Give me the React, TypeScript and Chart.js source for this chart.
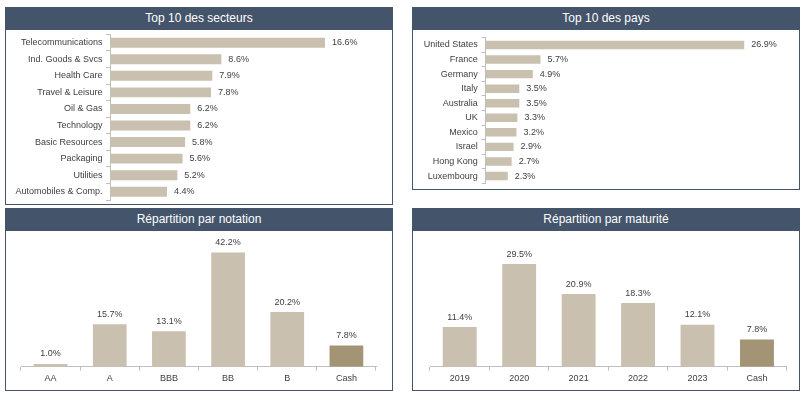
import React, { useEffect, useRef } from 'react';
import { Chart, registerables } from 'chart.js';
Chart.register(...registerables);

// ---- data ----
const sectorLabels = [
  'Telecommunications', 'Ind. Goods & Svcs', 'Health Care', 'Travel & Leisure', 'Oil & Gas',
  'Technology', 'Basic Resources', 'Packaging', 'Utilities', 'Automobiles & Comp.',
];
const sectorValues = [16.6, 8.6, 7.9, 7.8, 6.2, 6.2, 5.8, 5.6, 5.2, 4.4];

const countryLabels = [
  'United States', 'France', 'Germany', 'Italy', 'Australia', 'UK', 'Mexico', 'Israel', 'Hong Kong', 'Luxembourg',
];
const countryValues = [26.9, 5.7, 4.9, 3.5, 3.5, 3.3, 3.2, 2.9, 2.7, 2.3];

const ratingLabels = ['AA', 'A', 'BBB', 'BB', 'B', 'Cash'];
const ratingValues = [1.0, 15.7, 13.1, 42.2, 20.2, 7.8];

const maturityLabels = ['2019', '2020', '2021', '2022', '2023', 'Cash'];
const maturityValues = [11.4, 29.5, 20.9, 18.3, 12.1, 7.8];

// ---- styles ----
const FONT = '"Liberation Sans", Arial, sans-serif';
const HEADER = '#44546A';
const BAR = '#C9C0AF';
const CASH = '#A39475';
const AXIS = '#BFBFBF';
const TEXT = '#404040';

const colorsFor = (labels: string[]) => labels.map((l) => (l === 'Cash' ? CASH : BAR));

const valueLabelPlugin = {
  id: 'valueLabels',
  afterDatasetsDraw(chart: any) {
    const { ctx } = chart;
    const horizontal = chart.options.indexAxis === 'y';
    chart.data.datasets.forEach((ds: any, di: number) => {
      const meta = chart.getDatasetMeta(di);
      meta.data.forEach((el: any, i: number) => {
        const txt = Number(ds.data[i]).toFixed(1) + '%';
        ctx.save();
        ctx.font = `9px ${FONT}`;
        ctx.fillStyle = TEXT;
        ctx.textBaseline = 'middle';
        if (horizontal) {
          ctx.textAlign = 'left';
          ctx.fillText(txt, el.x + 7, el.y);
        } else {
          ctx.textAlign = 'center';
          ctx.fillText(txt, el.x, el.y - 10);
        }
        ctx.restore();
      });
    });
  },
};

function hbarConfig(labels: string[], values: number[], max: number, axisWidth: number, pad: any, labelPad: number, barPct: number) {
  return {
    type: 'bar',
    data: {
      labels,
      datasets: [{ data: values, backgroundColor: colorsFor(labels), barPercentage: barPct, categoryPercentage: 1 }],
    },
    options: {
      indexAxis: 'y',
      animation: false,
      responsive: false,
      devicePixelRatio: 1,
      layout: { padding: pad },
      plugins: { legend: { display: false }, tooltip: { enabled: false } },
      scales: {
        x: { display: false, min: 0, max },
        y: {
          afterFit: (s: any) => { s.width = axisWidth; s.paddingTop = 0; s.paddingBottom = 0; },
          grid: { display: true, drawOnChartArea: false, tickLength: 4, color: AXIS, offset: true },
          border: { display: true, color: AXIS },
          ticks: { font: { size: 9, family: FONT }, color: TEXT, padding: labelPad, autoSkip: false },
        },
      },
    },
    plugins: [valueLabelPlugin],
  };
}

function vbarConfig(labels: string[], values: number[], max: number, pad: any) {
  return {
    type: 'bar',
    data: {
      labels,
      datasets: [{ data: values, backgroundColor: colorsFor(labels), barPercentage: 0.57, categoryPercentage: 1 }],
    },
    options: {
      animation: false,
      responsive: false,
      devicePixelRatio: 1,
      layout: { padding: pad },
      plugins: { legend: { display: false }, tooltip: { enabled: false } },
      scales: {
        x: {
          afterFit: (s: any) => { s.height = 22.3; s.paddingLeft = 0; s.paddingRight = 0; },
          grid: { display: true, drawOnChartArea: false, tickLength: 4, color: AXIS, offset: true },
          border: { display: true, color: AXIS },
          ticks: { font: { size: 9, family: FONT }, color: TEXT, padding: 2, autoSkip: false, maxRotation: 0 },
        },
        y: { display: false, min: 0, max },
      },
    },
    plugins: [valueLabelPlugin],
  };
}

function ChartCanvas({ x, y, w, h, config }: { x: number; y: number; w: number; h: number; config: any }) {
  const ref = useRef<HTMLCanvasElement | null>(null);
  useEffect(() => {
    if (!ref.current) return;
    const chart = new Chart(ref.current, config);
    return () => chart.destroy();
  }, []);
  return (
    <canvas
      ref={ref}
      width={w}
      height={h}
      style={{ position: 'absolute', left: x, top: y, width: w, height: h }}
    />
  );
}

function Panel({ x, y, w, h, title }: { x: number; y: number; w: number; h: number; title: string }) {
  return (
    <>
      <div
        style={{
          position: 'absolute', left: x, top: y, width: w, height: h,
          border: `1.5px solid ${HEADER}`, boxSizing: 'border-box', background: '#fff',
        }}
      />
      <div
        style={{
          position: 'absolute', left: x, top: y, width: w, height: 23, background: HEADER,
          color: '#fff', fontFamily: FONT, fontSize: 12, lineHeight: '23px', textAlign: 'center',
        }}
      >
        {title}
      </div>
    </>
  );
}

export default function App() {
  return (
    <div style={{ position: 'fixed', left: 0, top: 0, width: 809, height: 399, background: '#fff', overflow: 'hidden' }}>
      <Panel x={5} y={7} w={388} h={198} title="Top 10 des secteurs" />
      <Panel x={412} y={7} w={388} h={183} title="Top 10 des pays" />
      <Panel x={5} y={208} w={388} h={183} title="Répartition par notation" />
      <Panel x={412} y={208} w={388} h={183} title="Répartition par maturité" />

      <ChartCanvas
        x={7} y={31} w={384} h={172}
        config={hbarConfig(sectorLabels, sectorValues, 20, 103, { left: 0, right: 22, top: 3.4, bottom: 3 }, 3.5, 0.6)}
      />
      <ChartCanvas
        x={414} y={31} w={384} h={157}
        config={hbarConfig(countryLabels, countryValues, 30, 71.7, { left: 0, right: 24, top: 6.7, bottom: 4.7 }, 4, 0.58)}
      />
      <ChartCanvas
        x={7} y={232} w={384} h={157}
        config={vbarConfig(ratingLabels, ratingValues, 45, { left: 14, right: 15, top: 13, bottom: 0 })}
      />
      <ChartCanvas
        x={414} y={232} w={384} h={157}
        config={vbarConfig(maturityLabels, maturityValues, 35, { left: 16, right: 11.3, top: 13, bottom: 0 })}
      />
    </div>
  );
}
